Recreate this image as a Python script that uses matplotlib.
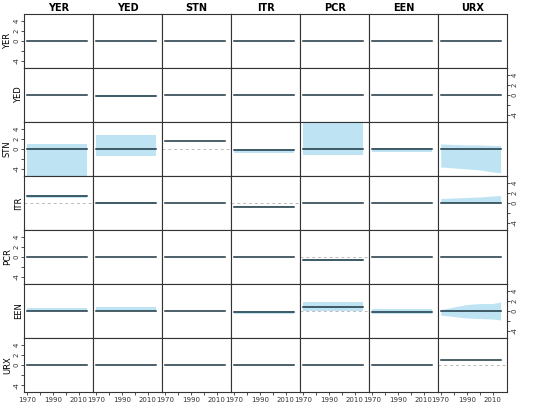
import numpy as np
import matplotlib.pyplot as plt

names = ["YER", "YED", "STN", "ITR", "PCR", "EEN", "URX"]
years = np.arange(1970, 2017)
knots = [1970, 1980, 1990, 2000, 2010, 2016]

# mean response per (row=response, col=shock)
mean = np.array([
    [0, 0, 0, 0, 0, 0, 0],
    [0, -0.2, 0, 0, 0, 0, 0],
    [0, 0, 1.5, -0.2, 0, 0, 0],
    [1.3, 0, 0, -0.8, 0, 0, 0],
    [0, 0, 0, 0, -0.6, 0, 0],
    [0.1, 0.1, 0, -0.1, 0.8, -0.1, 0],
    [0, 0, 0, 0, 0, 0, 1.0],
])
band_lo = np.array([
    [0, 0, 0, 0, 0, 0, 0],
    [0, -0.5, 0, 0, 0, 0, 0],
    [-5.4, -1.4, 1.5, -0.8, -1.3, -0.6, 0],
    [1.0, -0.2, 0, -0.9, 0, 0, 0],
    [0, 0, 0, 0, -0.8, 0, 0],
    [0, 0, 0, -0.6, 0, -0.5, 0],
    [0, 0, 0, 0, 0, 0, 1.0],
])
band_hi = np.array([
    [0, 0, 0, 0, 0, 0, 0],
    [0, 0, 0, 0, 0, 0, 0],
    [0.9, 2.8, 1.5, 0, 5.4, 0.2, 0],
    [1.5, 0.2, 0, -0.6, 0, 0, 0],
    [0, 0, 0, 0, -0.4, 0, 0],
    [0.7, 0.8, 0, 0, 1.8, 0.4, 0],
    [0, 0, 0, 0, 0, 0, 1.0],
])
# time-varying bands in the URX column, read at the knot years
stn_urx_lo = [-3.6, -3.8, -4.0, -4.2, -4.6, -4.8]
stn_urx_hi = [1.0, 0.9, 0.8, 0.8, 0.7, 0.7]
itr_urx_lo = [0, 0, 0, 0, 0, 0]
itr_urx_hi = [0.9, 1.0, 1.1, 1.2, 1.4, 1.5]
een_urx_lo = [-0.8, -1.1, -1.4, -1.5, -1.6, -1.8]
een_urx_hi = [0.3, 0.8, 1.3, 1.5, 1.5, 1.8]

band_col = "#bee4f4"
line_col = "#1d3440"

fig, axes = plt.subplots(7, 7, figsize=(5.5, 4.08), dpi=100, sharex=True, sharey=True)
fig.subplots_adjust(left=0.044, right=0.922, top=0.966, bottom=0.039, wspace=0, hspace=0)

for i in range(7):
    for j in range(7):
        ax = axes[i, j]
        lo = np.full(len(years), band_lo[i, j], float)
        hi = np.full(len(years), band_hi[i, j], float)
        if j == 6 and i == 2:
            lo, hi = np.interp(years, knots, stn_urx_lo), np.interp(years, knots, stn_urx_hi)
        if j == 6 and i == 3:
            lo, hi = np.interp(years, knots, itr_urx_lo), np.interp(years, knots, itr_urx_hi)
        if j == 6 and i == 5:
            lo, hi = np.interp(years, knots, een_urx_lo), np.interp(years, knots, een_urx_hi)
        ax.fill_between(years, lo, hi, color=band_col, lw=0)
        if abs(mean[i, j]) > 0.3:
            ax.axhline(0, color="#bbbbbb", ls="--", lw=0.7, dashes=(3, 3))
        ax.plot(years, np.full(len(years), mean[i, j]), color=line_col, lw=1.1)
        ax.set_xlim(1968, 2021)
        ax.set_ylim(-5.4, 5.4)
        for s in ax.spines.values():
            s.set_linewidth(0.8)
            s.set_color("#333333")
        ax.tick_params(length=2.5, width=0.6, labelsize=5, pad=1, colors="#333333")
        ax.set_yticks([-4, -2, 0, 2, 4])
        ax.set_xticks([1970, 1980, 1990, 2000, 2010])
        ax.set_xticklabels(["1970", "", "1990", "", "2010"])
        ax.tick_params(axis="y", left=False, labelleft=False, right=False, labelright=False)
        ax.tick_params(axis="x", bottom=(i == 6), labelbottom=(i == 6))
        if j == 0:
            ax.set_ylabel(names[i], fontsize=6, labelpad=1)
            if i % 2 == 0:
                ax.tick_params(axis="y", left=True, labelleft=True)
                ax.set_yticklabels(["-4", "", "0", "2", "4"], rotation=90, va="center")
        if j == 6 and i % 2 == 1:
            ax.tick_params(axis="y", right=True, labelright=True)
            ax.set_yticklabels(["-4", "", "0", "2", "4"], rotation=90, va="center")
        if i == 0:
            ax.set_title(names[j], fontsize=7, fontweight="bold", pad=2)

fig.savefig("out.png", dpi=100)
